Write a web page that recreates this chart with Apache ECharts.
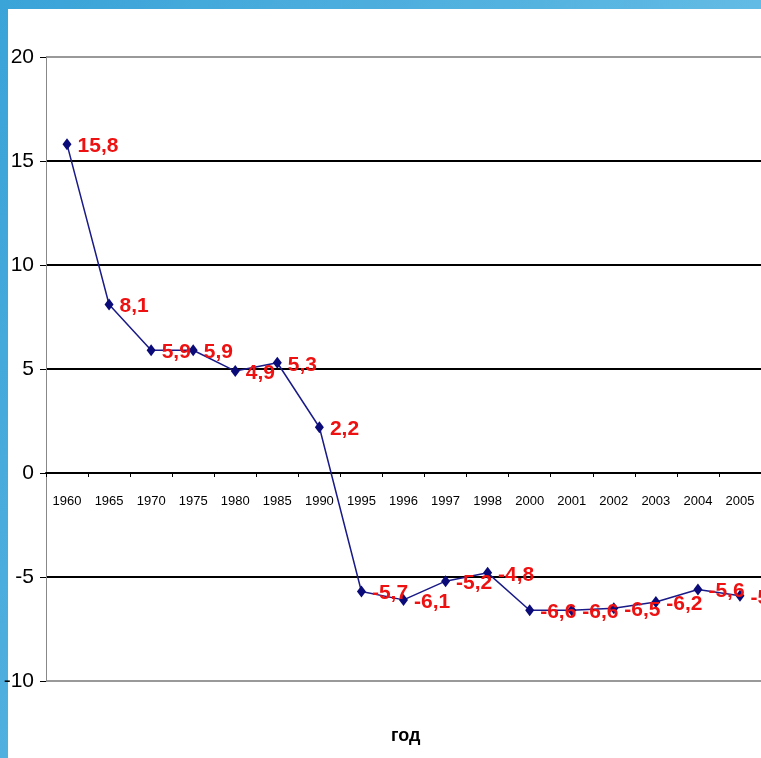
<!DOCTYPE html>
<html>
<head>
<meta charset="utf-8">
<script src="https://cdn.jsdelivr.net/npm/echarts@6/dist/echarts.min.js"></script>
<style>
html,body{margin:0;padding:0;width:761px;height:758px;overflow:hidden;}
#bg{position:absolute;left:0;top:0;width:761px;height:758px;background:linear-gradient(120deg,#3aa3d8 0%,#55b3e0 45%,#7ccbec 100%);}
#white{position:absolute;left:8px;top:9px;width:753px;height:749px;background:#fff;}
#chart{position:absolute;left:0;top:0;width:761px;height:758px;}
</style>
</head>
<body>
<div id="bg"></div>
<div id="white"></div>
<div id="chart"></div>
<script>
const years = ['1960','1965','1970','1975','1980','1985','1990','1995','1996','1997','1998','2000','2001','2002','2003','2004','2005'];
const values = [15.8, 8.1, 5.9, 5.9, 4.9, 5.3, 2.2, -5.7, -6.1, -5.2, -4.8, -6.6, -6.6, -6.5, -6.2, -5.6, -5.9];
const yTicks = { min: -10, max: 20, interval: 5 };
const axisTitle = 'год';

const chart = echarts.init(document.getElementById('chart'), null, {renderer:'canvas'});
const narrow = '"Liberation Sans Narrow","Arial Narrow","Liberation Sans",sans-serif';
const option = {
  backgroundColor: 'transparent',
  animation: false,
  grid: { left: 46, top: 57, width: 723, height: 624, containLabel: false },
  xAxis: {
    type: 'category',
    data: years,
    boundaryGap: true,
    offset: 0,
    axisLine: { onZero: false, lineStyle: { color: '#000', width: 2 } },
    axisTick: { show: true, length: 4, inside: false, lineStyle: { color: '#000' } },
    axisLabel: { interval: 0, margin: 22, color: '#000', fontSize: 13, fontFamily: narrow },
    splitLine: { show: false }
  },
  yAxis: {
    type: 'value',
    min: yTicks.min, max: yTicks.max, interval: yTicks.interval,
    axisLine: { show: true, onZero: false, lineStyle: { color: '#888', width: 1 } },
    axisTick: { show: true, length: 6, lineStyle: { color: '#000' } },
    axisLabel: { margin: 12, color: '#000', fontSize: 21, fontFamily: narrow },
    splitLine: { show: true, lineStyle: { color: ['#999','#000','#000','#000','#000','#000','#999'], width: 2 } }
  },
  graphic: [{
    type: 'text', left: 391, top: 727,
    style: { text: axisTitle, fill: '#000', font: 'bold 18px "Liberation Sans", Arial, sans-serif' }
  }],
  series: [{
    type: 'line',
    data: values,
    symbol: 'diamond',
    symbolSize: [9, 12],
    itemStyle: { color: '#0a0a78' },
    lineStyle: { color: '#1a1a88', width: 1.5 },
    label: {
      show: true, position: 'right', distance: 6, offset: [0, 2],
      color: '#ee1111', fontSize: 21, fontWeight: 'bold', fontFamily: narrow,
      formatter: p => String(p.value).replace('.', ',')
    }
  }]
};
chart.setOption(option);
// move the category axis (line + labels) up to the zero value
const yZero = chart.convertToPixel({ yAxisIndex: 0 }, 0);
const yBottom = chart.convertToPixel({ yAxisIndex: 0 }, yTicks.min);
chart.setOption({ xAxis: { offset: -(yBottom - yZero) } });
</script>
</body>
</html>
